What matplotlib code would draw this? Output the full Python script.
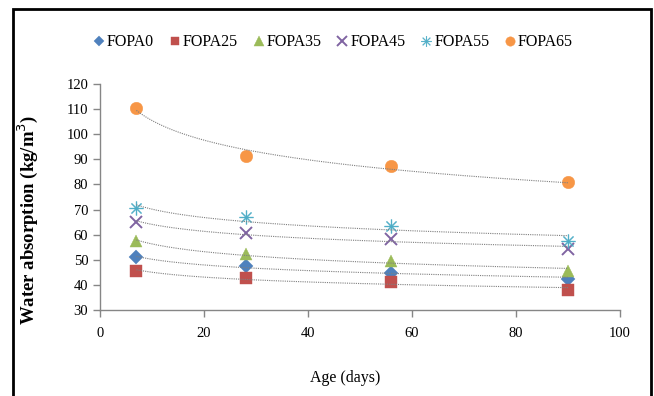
import numpy as np
import matplotlib.pyplot as plt
from matplotlib.patches import Rectangle

plt.rcParams['font.family'] = ['Liberation Serif', 'DejaVu Serif']

age = [7, 28, 56, 90]
series = ['FOPA0', 'FOPA25', 'FOPA35', 'FOPA45', 'FOPA55', 'FOPA65']
fopa0 = [51.0, 47.6, 44.8, 42.5]
fopa25 = [45.6, 42.8, 41.1, 37.9]
fopa35 = [57.5, 52.3, 49.5, 45.6]
fopa45 = [65.1, 60.5, 58.3, 54.2]
fopa55 = [70.8, 67.0, 63.3, 57.5]
fopa65 = [110.4, 91.2, 87.5, 80.9]

values = [fopa0, fopa25, fopa35, fopa45, fopa55, fopa65]
colors = ['#4F81BD', '#C0504D', '#9BBB59', '#8064A2', '#4BACC6', '#F79646']
markers = ['D', 's', '^', 'x', '$\u2733$', 'o']
sizes = [7, 8, 9, 9, 10, 9]

fig = plt.figure(figsize=(6.54, 3.96), dpi=100)
ax = fig.add_axes([0.1529, 0.217, 0.795, 0.571])

x = np.array(age, dtype=float)
xs = np.linspace(7, 90, 200)
for name, y, c, m, s in zip(series, values, colors, markers, sizes):
    kw = dict(markeredgewidth=1.4) if m == 'x' else dict(markeredgewidth=0.3, markeredgecolor=c)
    ax.plot(age, y, linestyle='none', marker=m, color=c, markersize=s, label=name, zorder=3, **kw)
    # logarithmic trendline
    a, b = np.polyfit(np.log(x), y, 1)
    ax.plot(xs, a * np.log(xs) + b, linestyle=(0, (1, 1)), color='#7f7f7f', linewidth=0.8, zorder=4)

ax.set_xlim(0, 100)
ax.set_ylim(30, 120)
ax.set_xticks(range(0, 101, 20))
ax.set_yticks(range(30, 121, 10))
for sp in ['top', 'right']:
    ax.spines[sp].set_visible(False)
for sp in ['left', 'bottom']:
    ax.spines[sp].set_color('#868686')
    ax.spines[sp].set_linewidth(1.0)
ax.tick_params(colors='#868686', labelcolor='black', labelsize=10.5, length=5, width=1.0)
ax.tick_params(axis='x', pad=7)

ax.set_xlabel('Age (days)', fontsize=11.5)
ax.xaxis.set_label_coords(0.471, -0.265)
ax.set_ylabel('Water absorption (kg/m$^3$)', fontsize=13.5, fontweight='bold')
ax.yaxis.set_label_coords(-0.115, 0.40)

fig.legend(loc='center', bbox_to_anchor=(0.51, 0.893), ncol=6, frameon=False,
           fontsize=11.5, handlelength=0.6, handletextpad=0.2, columnspacing=1.0,
           markerscale=0.75)

fig.patches.append(Rectangle((13 / 654, -0.1), (651 - 13) / 654, 1.1 - 9 / 396,
                             transform=fig.transFigure, fill=False,
                             edgecolor='black', linewidth=2))

fig.savefig('out.png', dpi=100)
